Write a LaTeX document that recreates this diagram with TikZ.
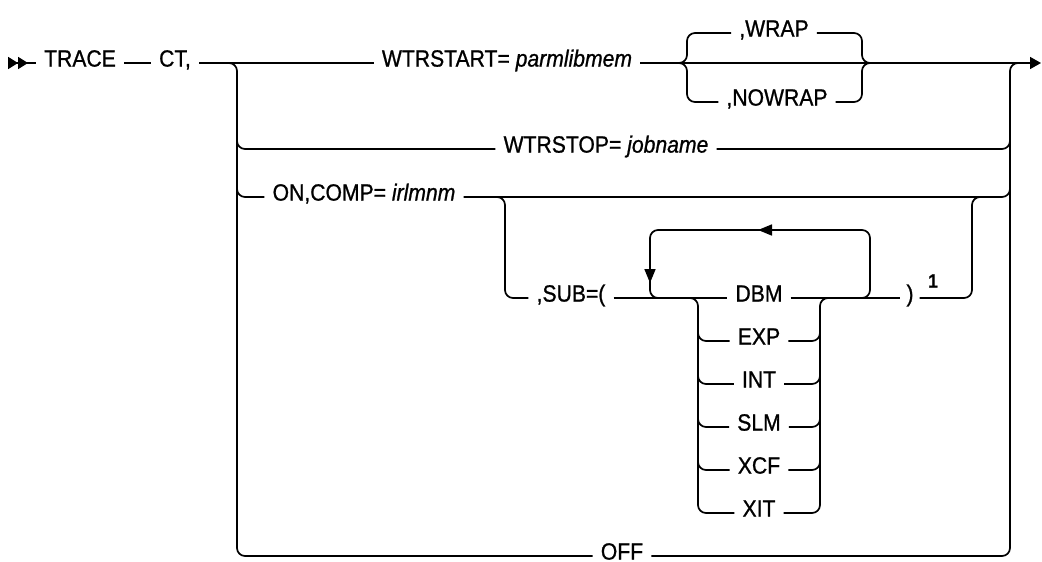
\documentclass[tikz,border=0pt]{standalone}
\usepackage{fontspec}
\setmainfont{Liberation Sans}[FakeStretch=0.9,FakeBold=0.9]
\usepackage{tikz}
\usetikzlibrary{arrows.meta}

\begin{document}
\begin{tikzpicture}[x=1pt,y=-1pt,
    rail/.style={line width=1.7pt, rounded corners=8pt},
    kw/.style={inner xsep=8pt, inner ysep=0pt, text height=0.72em, text depth=0pt,
        font=\fontsize{23.5}{26}\selectfont}]
    \useasboundingbox (0,0) rectangle (1042,562);

    % Keywords
    \node[kw] (trace) at (80,63) {TRACE};
    \node[kw] (ct) at (175,63) {CT,};
    \node[kw] (wtrstart) at (507,63) {WTRSTART= \textit{parmlibmem}};
    \node[kw] (wrap) at (774,33) {,WRAP};
    \node[kw] (nowrap) at (777,102) {,NOWRAP};
    \node[kw] (wtrstop) at (606,149) {WTRSTOP= \textit{jobname}};
    \node[kw] (oncomp) at (364,197) {ON,COMP= \textit{irlmnm}};
    \node[kw] (sub) at (571,298) {,SUB=(};
    \node[kw, inner xsep=6pt] (rparen) at (910,298) {)};
    \node[font=\fontsize{19}{22}\selectfont\bfseries] (fnote) at (933,281) {1};
    \node[kw] (off) at (622,556) {OFF};

    % Sub-component choices
    \foreach \name [count=\i from 0] in {DBM,EXP,INT,SLM,XCF,XIT}
        \node[kw] (c\i) at (759,{298+43*\i}) {\name};

    % Main line
    \draw[rail,{Triangle[reversed,length=10pt,width=12pt]Triangle[reversed,length=10pt,width=12pt]}-]
        (8,63) -- (trace.west);
    \draw[rail] (trace.east) -- (ct.west);
    \draw[rail] (ct.east) -- (wtrstart.west);
    \draw[rail,-{Triangle[length=11pt,width=12pt]}] (wtrstart.east) -- (1041,63);

    % WRAP / NOWRAP
    \draw[rail] (677,63) -- (687,63) -- (687,33) -- (wrap.west);
    \draw[rail] (677,63) -- (687,63) -- (687,102) -- (nowrap.west);
    \draw[rail] (wrap.east) -- (862,33) -- (862,63) -- (872,63);
    \draw[rail] (nowrap.east) -- (862,102) -- (862,63) -- (872,63);

    % Left and right rails
    \draw[rail] (227,63) -- (237,63) -- (237,556) -- (off.west);
    \draw[rail] (off.east) -- (1010,556) -- (1010,63) -- (1020,63);
    \draw[rail] (237,129) -- (237,149) -- (wtrstop.west);
    \draw[rail] (wtrstop.east) -- (1010,149) -- (1010,129);
    \draw[rail] (237,177) -- (237,197) -- (oncomp.west);
    \draw[rail] (oncomp.east) -- (1010,197) -- (1010,177);

    % SUB= branch
    \draw[rail] (495,197) -- (505,197) -- (505,298) -- (sub.west);
    \draw[rail] (sub.east) -- (c0.west);
    \draw[rail] (c0.east) -- (rparen.west);
    \draw[rail] (rparen.east) -- (972,298) -- (972,197) -- (982,197);

    % Repeat loop
    \draw[rail] (860,298) -- (870,298) -- (870,230) -- (650,230) -- (650,298) -- (660,298);
    \draw[rail,-{Triangle[length=14pt,width=11pt]}] (780,230) -- (758,230);
    \draw[rail,-{Triangle[length=14pt,width=11pt]}] (650,255) -- (650,283);

    % Choice rails
    \draw[rail] (688,298) -- (698,298) -- (698,513) -- (c5.west);
    \draw[rail] (c5.east) -- (820,513) -- (820,298) -- (830,298);
    \foreach \i in {1,...,4} {
        \draw[rail] (698,{278+43*\i}) -- (698,{298+43*\i}) -- (c\i.west);
        \draw[rail] (c\i.east) -- (820,{298+43*\i}) -- (820,{278+43*\i});
    }

\end{tikzpicture}
\end{document}
